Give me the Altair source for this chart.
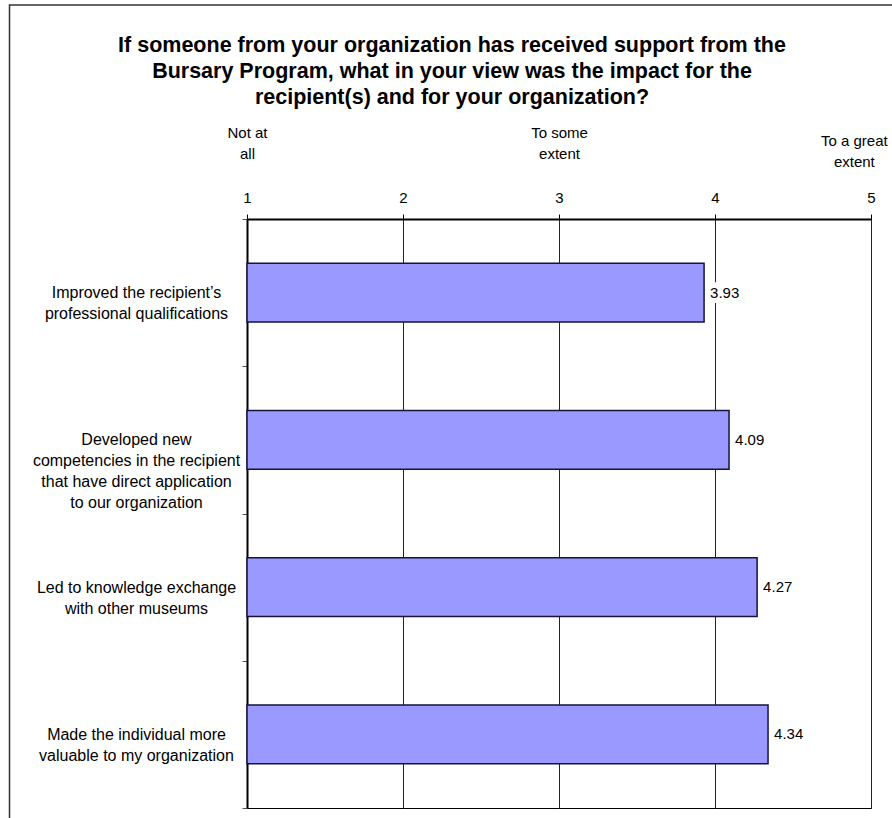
import json
import altair as alt
import pandas as pd

# ---------------- data ----------------
title_lines = [
    "If someone from your organization has received support from the",
    "Bursary Program, what in your view was the impact for the",
    "recipient(s) and for your organization?",
]
categories = [
    "Improved the recipient\u2019s\nprofessional qualifications",
    "Developed new\ncompetencies in the recipient\nthat have direct application\nto our organization",
    "Led to knowledge exchange\nwith other museums",
    "Made the individual more\nvaluable to my organization",
]
scores = [3.93, 4.09, 4.27, 4.34]
scale_ticks = [1, 2, 3, 4, 5]
anchor_values = [1, 3]
anchor_labels = [["Not at", "all"], ["To some", "extent"]]
great_values = [4.89]
great_labels = [["To a great", "extent"]]

df = pd.DataFrame({"item": categories, "score": scores})
one_row = pd.DataFrame({"k": [0]})

FONT = "Liberation Sans"
W, H = 624, 589
PAD = {"left": 247, "top": 219, "right": 21, "bottom": 10}


def label_expr(values, labels):
    expr = json.dumps(labels[-1])
    for v, lab in zip(values[:-1][::-1], labels[:-1][::-1]):
        expr = f"datum.value == {v} ? {json.dumps(lab)} : ({expr})"
    return expr


x_scale = alt.Scale(domain=[1, 5], nice=False, zero=False)

y_axis = alt.Axis(
    title=None,
    tickBand="extent",
    tickSize=5,
    tickColor="#555",
    domain=True,
    domainColor="black",
    domainWidth=2,
    labelPadding=106,
    labelAlign="center",
    labelBaseline="middle",
    labelExpr="split(datum.label, '\\n')",
    labelLimit=0,
    labelFont=FONT,
    labelFontSize=16,
    labelLineHeight=21,
    labelColor="black",
)
y_enc = alt.Y("item:N", sort=categories,
              scale=alt.Scale(paddingInner=0, paddingOuter=0), axis=y_axis)

frame = alt.Chart(one_row).mark_rect(
    fillOpacity=0, stroke="#333", strokeWidth=1.5
).encode(
    x=alt.value(-237.5), x2=alt.value(700), y=alt.value(-214), y2=alt.value(650)
)

title = alt.Chart(one_row).mark_text(
    text=title_lines, font=FONT, fontSize=21.5, fontWeight="bold",
    lineHeight=26, align="center", baseline="middle", color="black"
).encode(x=alt.value(205), y=alt.value(-173))

bars = alt.Chart(df).mark_bar(
    height=alt.RelativeBandSize(0.4), fill="#9999FF",
    stroke="#14143c", strokeWidth=1.5
).encode(
    x=alt.X("score:Q", scale=x_scale, axis=alt.Axis(
        orient="top", values=scale_ticks, format="d", title=None,
        grid=True, gridColor="#222", gridWidth=1,
        domainColor="black", domainWidth=2,
        tickColor="black", tickSize=5,
        labelPadding=9, labelFlush=False,
        labelFont=FONT, labelFontSize=15, labelColor="black")),
    x2=alt.datum(1),
    y=y_enc,
)

# white box behind each value label (hides the gridline, as in the original)
label_boxes = alt.Chart(df).transform_calculate(
    box_end="datum.score + 0.245"
).mark_bar(
    height=alt.RelativeBandSize(0.14), fill="white", xOffset=4, x2Offset=4
).encode(
    x=alt.X("score:Q", scale=x_scale, axis=None),
    x2="box_end:Q",
    y=alt.Y("item:N", sort=categories),
)

values_text = alt.Chart(df).mark_text(
    align="left", baseline="middle", dx=6, font=FONT, fontSize=15, color="black"
).encode(
    x=alt.X("score:Q", scale=x_scale, axis=alt.Axis(
        orient="top", values=anchor_values, title=None,
        labelExpr=label_expr(anchor_values, anchor_labels),
        grid=False, ticks=False, tickSize=0, domain=False,
        labelPadding=78.5, labelFlush=False, labelLineHeight=21,
        labelFont=FONT, labelFontSize=15, labelColor="black")),
    y=alt.Y("item:N", sort=categories),
    text=alt.Text("score:Q", format=".2f"),
)

great_axis = alt.Chart(df).mark_point(opacity=0).encode(
    x=alt.X("score:Q", scale=x_scale, axis=alt.Axis(
        orient="top", values=great_values, title=None,
        labelExpr=label_expr(great_values, great_labels),
        grid=False, ticks=False, tickSize=0, domain=False,
        labelPadding=71, labelFlush=False, labelLineHeight=21,
        labelFont=FONT, labelFontSize=15, labelColor="black")),
    y=alt.Y("item:N", sort=categories),
)

chart = alt.layer(frame, title, bars, label_boxes, values_text, great_axis).resolve_axis(
    x="independent"
).properties(
    width=W, height=H, padding=PAD,
    autosize=alt.AutoSizeParams(type="none"),
    background="white",
).configure_view(stroke="black", strokeWidth=1)

chart.save("out.html", embed_options={"renderer": "svg", "actions": False})
